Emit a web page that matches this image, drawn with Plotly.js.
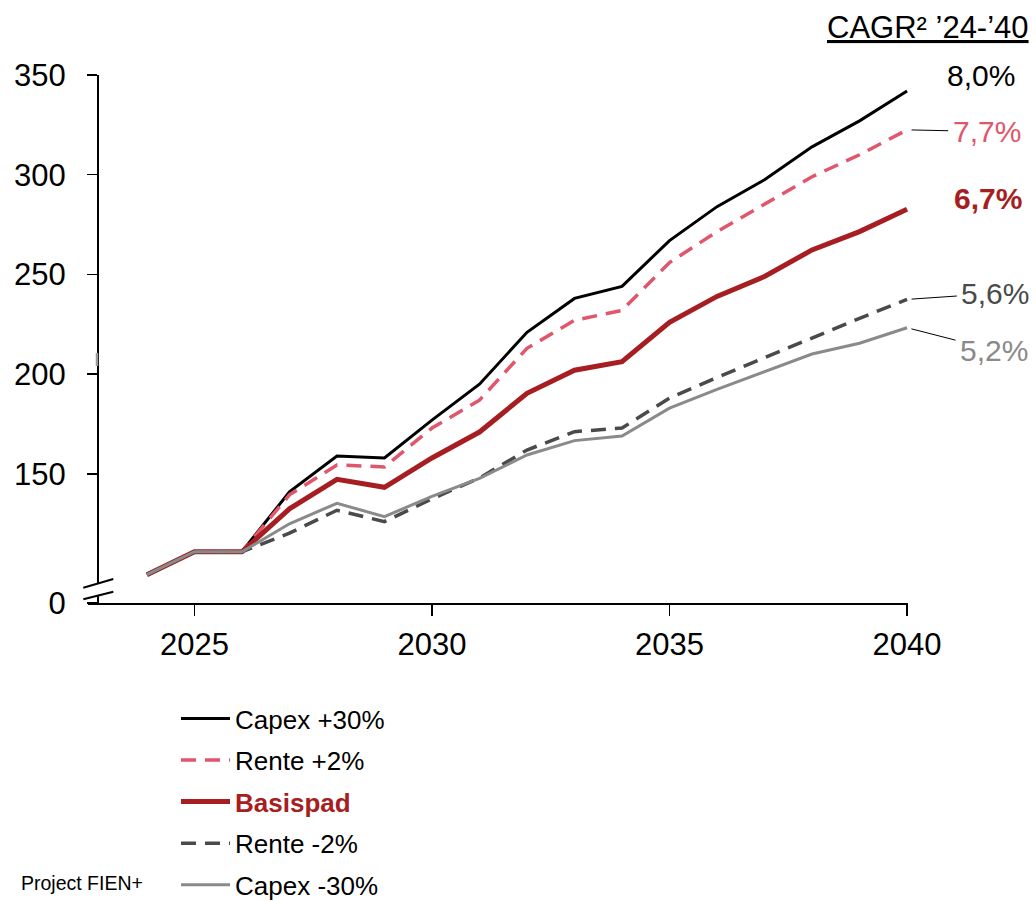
<!DOCTYPE html>
<html>
<head>
<meta charset="utf-8">
<script src="https://cdn.plot.ly/plotly-3.0.1.min.js"></script>
<style>html,body{margin:0;padding:0;background:#fff;}#chart{width:1036px;height:901px;}</style>
</head>
<body>
<div id="chart"></div>
<script>
// ---- data ----
const years = [2024, 2025, 2026, 2027, 2028, 2029, 2030, 2031, 2032, 2033, 2034, 2035, 2036, 2037, 2038, 2039, 2040];
const capexPlus30  = [99.5, 111, 111, 141, 159, 158, 177, 195, 221, 238, 244, 267, 284, 297.5, 314, 327, 342];
const rentePlus2   = [99.5, 111, 111, 139.5, 154.5, 153.5, 173, 187, 213, 227, 232, 256, 271.5, 285, 299, 310, 322.5];
const basispad     = [99.5, 111, 111, 132.5, 147.3, 143.3, 158, 171, 190.4, 202, 206.3, 226, 239, 249, 262.3, 271.5, 282.7];
const renteMinus2  = [99.5, 111, 111, 120.3, 131.8, 126.1, 137.5, 148, 162, 171.2, 173, 188, 198.4, 208.3, 218.5, 228, 237.5];
const capexMinus30 = [99.5, 111, 111, 125, 135.3, 128.6, 138.8, 147.8, 159.5, 166.7, 169, 183, 192.4, 201.3, 210.1, 215.5, 223.3];

const seriesNames = ['Capex +30%', 'Rente +2%', 'Basispad', 'Rente -2%', 'Capex -30%'];
const cagrLabels = ['8,0%', '7,7%', '6,7%', '5,6%', '5,2%'];
const xTickVals = [2025, 2030, 2035, 2040];
const yTickVals = [85.3, 150, 200, 250, 300, 350];
const yTickText = ['0', '150', '200', '250', '300', '350'];
const headerText = 'CAGR² ’24-’40';
const footerText = 'Project FIEN+';

// ---- styling ----
const FONT = 'Liberation Sans, Arial, sans-serif';
const colors = ['#000000', '#E0566B', '#A61E22', '#4A4A4A', '#8A8A8A'];
const widths = [3, 3.5, 5, 3.5, 3];
const dashes = ['solid', '15px,9px', 'solid', '15px,9px', 'solid'];
const allSeries = [capexPlus30, rentePlus2, basispad, renteMinus2, capexMinus30];

const traces = allSeries.map((vals, i) => ({
  type: 'scatter', mode: 'lines', x: years, y: vals,
  name: i === 2 ? '<span style="color:#A61E22"><b>' + seriesNames[i] + '</b></span>' : seriesNames[i],
  legendgroup: 'g' + i,
  line: {color: colors[i], width: widths[i], dash: dashes[i], shape: 'linear'},
  hoverinfo: 'skip', cliponaxis: false
}));

// plot area pixel geometry
const L = 88, T = 75, W = 820, H = 528;
const px = x => (x - L) / W;
const py = y => (T + H - y) / H;

// label offsets (pixels from line end)
const labelOffsets = [[73.5, -15.7], [79.7, 1.7], [81.3, -11], [88.3, -6], [87, 22.3]];
const showLeader = [false, true, false, true, true];

const annotations = allSeries.map((vals, i) => ({
  x: years[years.length - 1], y: vals[vals.length - 1], xref: 'x', yref: 'y',
  text: i === 2 ? '<b>' + cagrLabels[i] + '</b>' : cagrLabels[i],
  showarrow: true, arrowhead: 0, arrowwidth: 1,
  arrowcolor: showLeader[i] ? '#000000' : 'rgba(0,0,0,0)',
  standoff: 4.5, borderpad: 4,
  ax: labelOffsets[i][0], ay: labelOffsets[i][1],
  font: {family: FONT, size: 30, color: colors[i]}
}));

annotations.push({
  xref: 'paper', yref: 'paper', x: px(825), y: py(28), xanchor: 'left', yanchor: 'middle',
  text: headerText, showarrow: false,
  font: {family: FONT, size: 31, color: '#000000', lineposition: 'under'}
});
annotations.push({
  xref: 'paper', yref: 'paper', x: px(19), y: py(883), xanchor: 'left', yanchor: 'middle',
  text: footerText, showarrow: false,
  font: {family: FONT, size: 19.5, color: '#000000'}
});

// axis-break marks
const shapes = [
  {type: 'path', xref: 'paper', yref: 'paper', layer: 'above',
   path: `M${px(93)},${py(585.3)} L${px(103.5)},${py(582.3)} L${px(103.5)},${py(594.3)} L${px(93)},${py(596.6)} Z`,
   fillcolor: '#ffffff', line: {width: 0}},
  {type: 'line', xref: 'paper', yref: 'paper', layer: 'above',
   x0: px(83.3), y0: py(587.7), x1: px(113.3), y1: py(579), line: {color: '#000000', width: 2}},
  {type: 'line', xref: 'paper', yref: 'paper', layer: 'above',
   x0: px(83.3), y0: py(599.3), x1: px(113.3), y1: py(591.7), line: {color: '#000000', width: 2}},
  {type: 'line', xref: 'paper', yref: 'paper', layer: 'above',
   x0: px(97), y0: py(353), x1: px(97), y1: py(366), line: {color: '#9a9a9a', width: 2.5}}
];

const layout = {
  width: 1036, height: 901,
  margin: {l: L, r: 1036 - L - W, t: T, b: 901 - T - H, pad: 0, autoexpand: false},
  paper_bgcolor: '#ffffff', plot_bgcolor: '#ffffff',
  font: {family: FONT, color: '#000000'},
  showlegend: true,
  legend: {
    x: px(176), xanchor: 'left', y: py(695), yanchor: 'top',
    font: {family: FONT, size: 26, color: '#000000'},
    traceorder: 'grouped', tracegroupgap: 4.8, itemwidth: 49,
    bgcolor: 'rgba(0,0,0,0)', borderwidth: 0
  },
  xaxis: {
    range: [2022.76, 2040.02], tickvals: xTickVals, ticktext: xTickVals.map(String),
    showline: true, linecolor: '#000000', linewidth: 2,
    ticks: 'outside', ticklen: 11, tickwidth: 1.5, tickcolor: '#000000',
    tickfont: {family: FONT, size: 31, color: '#000000'},
    ticklabelstandoff: 2,
    showgrid: false, zeroline: false, fixedrange: true
  },
  yaxis: {
    range: [85.3, 350], tickvals: yTickVals, ticktext: yTickText,
    anchor: 'free', position: px(98),
    showline: true, linecolor: '#000000', linewidth: 2,
    ticks: 'outside', ticklen: 10, tickwidth: 1.5, tickcolor: '#000000',
    tickfont: {family: FONT, size: 31, color: '#000000'},
    ticklabelstandoff: 15,
    showgrid: false, zeroline: false, fixedrange: true
  },
  annotations: annotations,
  shapes: shapes
};

Plotly.newPlot('chart', traces, layout, {staticPlot: true, displayModeBar: false});
</script>
</body>
</html>
